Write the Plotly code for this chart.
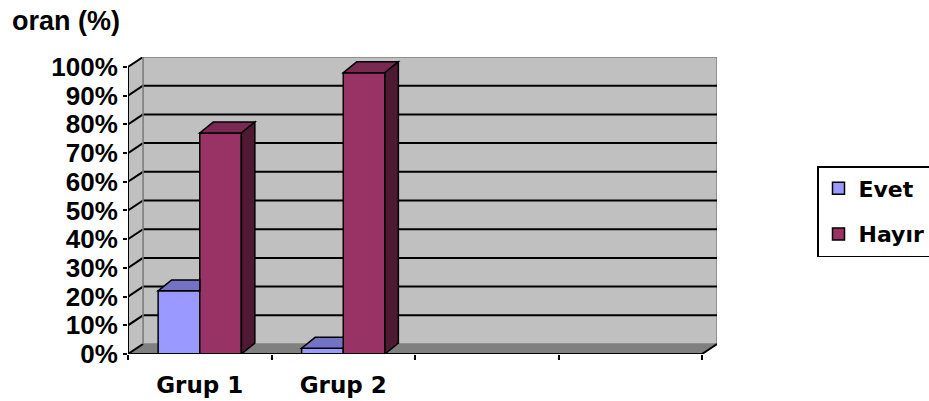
import plotly.graph_objects as go

# ---- data ----
categories = ["Grup 1", "Grup 2"]
n_slots = 4                      # the category axis has 4 slots, only 2 used
series_names = ["Evet", "Hayır"]
evet = [22, 2]
hayir = [77, 98]
y_ticks = [0, 10, 20, 30, 40, 50, 60, 70, 80, 90, 100]
y_tick_labels = [f"{v}%" for v in y_ticks]
title_text = "oran (%)"

# ---- style ----
front_cols = ["#9999FF", "#993366"]
top_cols = ["#7373C4", "#7A2952"]
side_cols = ["#5C5C99", "#4D1933"]
wall_col = "#C0C0C0"
floor_col = "#808080"
bargap = 0.42
wdx, wdy = 0.1045, 3.48          # wall depth offset (data units)
bdx, bdy = 0.094, 3.8            # bar depth offset (data units)

series = [evet, hayir]
xpos = [i + 1 for i in range(len(categories))]
ymax = y_ticks[-1]
x_lo, x_hi = 0.5, n_slots + 0.5

fig = go.Figure()
for name, vals, col in zip(series_names, series, front_cols):
    fig.add_trace(go.Bar(
        x=xpos, y=vals, name=name, legendgroup=name,
        marker=dict(color=col, line=dict(color="black", width=1.5)),
        hoverinfo="skip"))

shapes = []
def poly(pts, fill, layer="above", lw=1.5, lc="black"):
    d = "M " + " L ".join(f"{x},{y}" for x, y in pts) + " Z"
    shapes.append(dict(type="path", path=d, xref="x", yref="y",
                       fillcolor=fill, line=dict(color=lc, width=lw), layer=layer))

def line(x0, y0, x1, y1, color="black", width=2, layer="below"):
    shapes.append(dict(type="line", x0=x0, y0=y0, x1=x1, y1=y1, xref="x", yref="y",
                       line=dict(color=color, width=width), layer=layer))

# walls and floor
poly([(x_lo + wdx, wdy), (x_hi + wdx, wdy), (x_hi + wdx, ymax + wdy), (x_lo + wdx, ymax + wdy)],
     wall_col, layer="below", lw=1.5, lc="#808080")
poly([(x_lo, 0), (x_lo + wdx, wdy), (x_lo + wdx, ymax + wdy), (x_lo, ymax)],
     wall_col, layer="below", lw=0)
poly([(x_lo, 0), (x_hi, 0), (x_hi + wdx, wdy), (x_lo + wdx, wdy)],
     floor_col, layer="below", lw=0)
# gridlines on back wall and side wall
for v in y_ticks:
    if 0 < v < ymax:
        line(x_lo + wdx, v + wdy, x_hi + wdx, v + wdy)
    line(x_lo, v, x_lo + wdx, v + wdy)
line(x_lo + wdx, wdy, x_lo + wdx, ymax + wdy, color="#808080", width=1.5)

# 3D faces of bars
w = (1 - bargap) / len(series)
for j, c in enumerate(xpos):
    for i, vals in enumerate(series):
        v = vals[j]
        x0 = c - w * len(series) / 2 + i * w
        x1 = x0 + w
        nxt = series[i + 1][j] if i + 1 < len(series) else None
        if nxt is not None and nxt >= v:
            poly([(x0, v), (x1, v), (x1, v + bdy), (x0 + bdx, v + bdy)], top_cols[i])
        else:
            poly([(x0, v), (x1, v), (x1 + bdx, v + bdy), (x0 + bdx, v + bdy)], top_cols[i])
            poly([(x1, 0), (x1, v), (x1 + bdx, v + bdy), (x1 + bdx, bdy)], side_cols[i])

# axis lines
line(x_lo, 0, x_lo, ymax, width=2, layer="above")
line(x_lo, 0, x_hi, 0, width=2, layer="above")
line(x_hi, 0, x_hi + wdx, wdy, width=2, layer="above")

fig.update_layout(
    width=929, height=401, autosize=False,
    margin=dict(l=128, r=212, t=57, b=47, pad=0, autoexpand=False),
    plot_bgcolor="white", paper_bgcolor="white",
    barmode="group", bargap=bargap, bargroupgap=0,
    shapes=shapes,
    xaxis=dict(range=[x_lo, x_hi + wdx], tickvals=xpos, ticktext=categories,
               ticks="", showgrid=False, zeroline=False, showline=False,
               ticklabelstandoff=15, automargin=False,
               tickfont=dict(family="DejaVu Sans", size=23, color="black", weight="bold"),
               minor=dict(tickvals=[k + 0.5 for k in range(n_slots + 1)], ticks="outside",
                          ticklen=5, tickwidth=2, tickcolor="black", showgrid=False)),
    yaxis=dict(range=[0, ymax + wdy], tickvals=y_ticks, ticktext=y_tick_labels,
               ticks="outside", ticklen=4, tickwidth=2, tickcolor="black",
               showgrid=False, zeroline=False, showline=False, automargin=False,
               tickfont=dict(family="Liberation Sans", size=26, color="black", weight="bold")),
    legend=dict(x=(817 - 128) / 589, xanchor="left", y=(354 - 166) / 297, yanchor="top",
                bordercolor="black", borderwidth=1.5, bgcolor="white",
                tracegroupgap=14,
                font=dict(family="DejaVu Sans", size=22, color="black", weight="bold")),
    annotations=[dict(text=title_text, xref="paper", yref="paper",
                      x=(10 - 128) / 589, xanchor="left",
                      y=(354 - 21) / 297, yanchor="middle", showarrow=False,
                      font=dict(family="Liberation Sans", size=27, color="black", weight="bold"))],
)

fig.write_html("out.html")
